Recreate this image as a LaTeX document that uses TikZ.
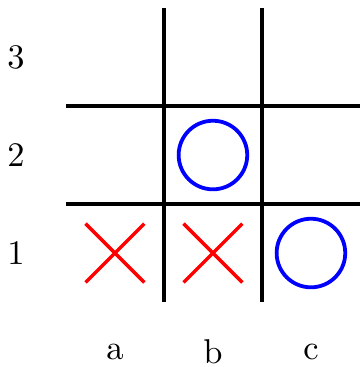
\documentclass[tikz,border=0pt]{standalone}
\begin{document}
\begin{tikzpicture}[x=1cm,y=1cm,
  gridline/.style={line width=0.95pt,black},
  xmark/.style={line width=1pt,red},
  omark/.style={line width=1.1pt,blue},
  lbl/.style={inner sep=0pt}]
\useasboundingbox (-0.673,-0.663) rectangle (3,3.082);
% grid
\coordinate (v1t) at (1,3); \coordinate (v1b) at (1,0);
\coordinate (v2t) at (2,3); \coordinate (v2b) at (2,0);
\coordinate (h1l) at (0,1); \coordinate (h1r) at (3,1);
\coordinate (h2l) at (0,2); \coordinate (h2r) at (3,2);
\draw[gridline] (v1t) -- (v1b);
\draw[gridline] (v2t) -- (v2b);
\draw[gridline] (h1l) -- (h1r);
\draw[gridline] (h2l) -- (h2r);
% labels
\node[lbl] (r3) at (-0.51,2.5) {3};
\node[lbl] (r2) at (-0.51,1.5) {2};
\node[lbl] (r1) at (-0.51,0.5) {1};
\node[lbl] (ca) at (0.5,-0.51) {a};
\node[lbl] (cb) at (1.5,-0.51) {b};
\node[lbl] (cc) at (2.5,-0.51) {c};
% X marks
\draw[xmark] (0.2,0.2) -- (0.8,0.8) (0.2,0.8) -- (0.8,0.2);
\draw[xmark] (1.2,0.2) -- (1.8,0.8) (1.2,0.8) -- (1.8,0.2);
% O marks
\draw[omark] (1.5,1.5) circle (0.35);
\draw[omark] (2.5,0.5) circle (0.35);
\end{tikzpicture}
\end{document}
